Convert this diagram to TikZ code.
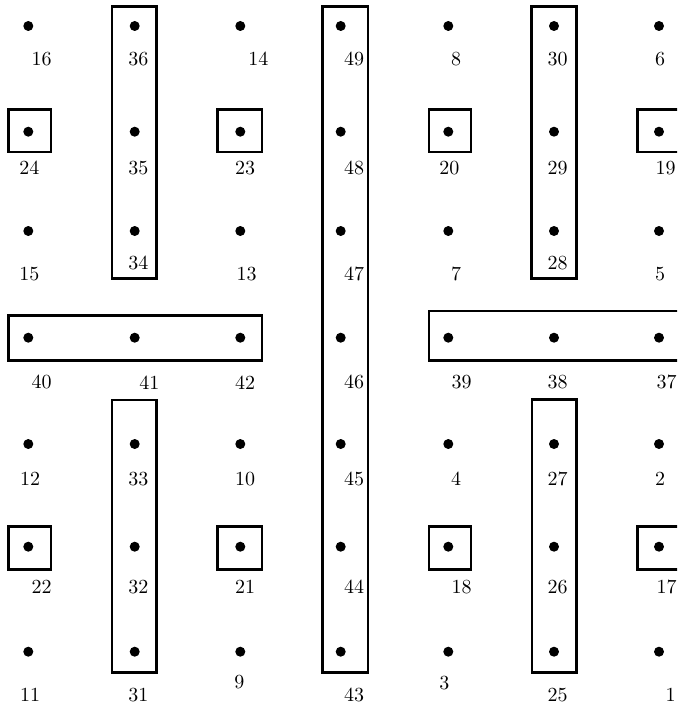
\documentclass[tikz,border=0pt]{standalone}
\begin{document}
\begin{tikzpicture}[x=0.5pt,y=-0.5pt,
  dotn/.style={circle,fill=black,inner sep=0pt,minimum size=5pt},
  lab/.style={inner sep=0pt,font=\normalsize},
  box/.style={draw=black,line width=1.25pt}]
\useasboundingbox (0,0) rectangle (677,706);
\clip (0,0) rectangle (677,706);
\newcommand\dotlab[5]{\node[dotn] (d#1) at (#2,#3) {}; \node[lab] (l#1) at (#4,#5) {#1};}
% row 1
\dotlab{16}{28.3}{26}{41.7}{59}
\dotlab{36}{134.7}{26}{138.3}{59}
\dotlab{14}{240.3}{26}{258.3}{59}
\dotlab{49}{340.7}{26}{354}{59}
\dotlab{8}{448.3}{26}{456}{59}
\dotlab{30}{554}{26}{557.7}{59}
\dotlab{6}{659}{26}{660}{59}
% row 2
\dotlab{24}{28.3}{131.7}{29.3}{167.7}
\dotlab{35}{134.7}{131.7}{138.3}{167.7}
\dotlab{23}{240.3}{131.7}{245}{167.7}
\dotlab{48}{340.7}{131.7}{354}{167.7}
\dotlab{20}{448.3}{131.7}{449.3}{167.7}
\dotlab{29}{554}{131.7}{557.7}{167.7}
\dotlab{19}{659}{131.7}{665.5}{167.7}
% row 3
\dotlab{15}{28.3}{231}{29.3}{274.3}
\dotlab{34}{134.7}{231}{138.3}{262.7}
\dotlab{13}{240.3}{231}{246.7}{274.3}
\dotlab{47}{340.7}{231}{354}{274.3}
\dotlab{7}{448.3}{231}{456}{274.3}
\dotlab{28}{554}{231}{557.7}{262.7}
\dotlab{5}{659}{231}{660}{274.3}
% row 4
\dotlab{40}{28.3}{337.7}{41.7}{382.3}
\dotlab{41}{134.7}{337.7}{149.3}{382.3}
\dotlab{42}{240.3}{337.7}{245}{382.3}
\dotlab{46}{340.7}{337.7}{354}{382.3}
\dotlab{39}{448.3}{337.7}{461.7}{382.3}
\dotlab{38}{554}{337.7}{557.7}{382.3}
\dotlab{37}{659}{337.7}{666.5}{382.3}
% row 5
\dotlab{12}{28.3}{444}{30}{479}
\dotlab{33}{134.7}{444}{138.3}{479}
\dotlab{10}{240.3}{444}{245}{479}
\dotlab{45}{340.7}{444}{354}{479}
\dotlab{4}{448.3}{444}{456}{479}
\dotlab{27}{554}{444}{557.7}{479}
\dotlab{2}{659}{444}{660}{479}
% row 6
\dotlab{22}{28.3}{546.7}{41.7}{586.7}
\dotlab{32}{134.7}{546.7}{138.3}{586.7}
\dotlab{21}{240.3}{546.7}{245}{586.7}
\dotlab{44}{340.7}{546.7}{354}{586.7}
\dotlab{18}{448.3}{546.7}{461.7}{586.7}
\dotlab{26}{554}{546.7}{557.7}{586.7}
\dotlab{17}{659}{546.7}{666.5}{586.7}
% row 7
\dotlab{11}{28.3}{651.7}{30}{695}
\dotlab{31}{134.7}{651.7}{138.3}{695}
\dotlab{9}{240.3}{651.7}{239.3}{681.7}
\dotlab{43}{340.7}{651.7}{354}{695}
\dotlab{3}{448.3}{651.7}{444.3}{683.3}
\dotlab{25}{554}{651.7}{557.7}{695}
\dotlab{1}{659}{651.7}{670.5}{695}
% boxes
\draw[box] (8.7,109.3) rectangle (51,152);
\draw[box] (217.7,109.3) rectangle (262,152);
\draw[box] (429,109.3) rectangle (471,152);
\draw[box] (637.7,109.3) rectangle (681,152);
\draw[box] (8.7,526.7) rectangle (51,569.3);
\draw[box] (217.7,526.7) rectangle (262,569.3);
\draw[box] (429,526.7) rectangle (471,569.3);
\draw[box] (637.7,526.7) rectangle (681,569.3);
\draw[box] (112,6.7) rectangle (156.7,278.7);
\draw[box] (531.7,6.7) rectangle (576.7,278.7);
\draw[box] (322.7,6.7) rectangle (368,672.3);
\draw[box] (112,400) rectangle (156.7,672.3);
\draw[box] (532,399.3) rectangle (576.7,672.3);
\draw[box] (8.7,315.7) rectangle (262,360.7);
\draw[box] (429,311) rectangle (681,360.3);
\end{tikzpicture}
\end{document}
